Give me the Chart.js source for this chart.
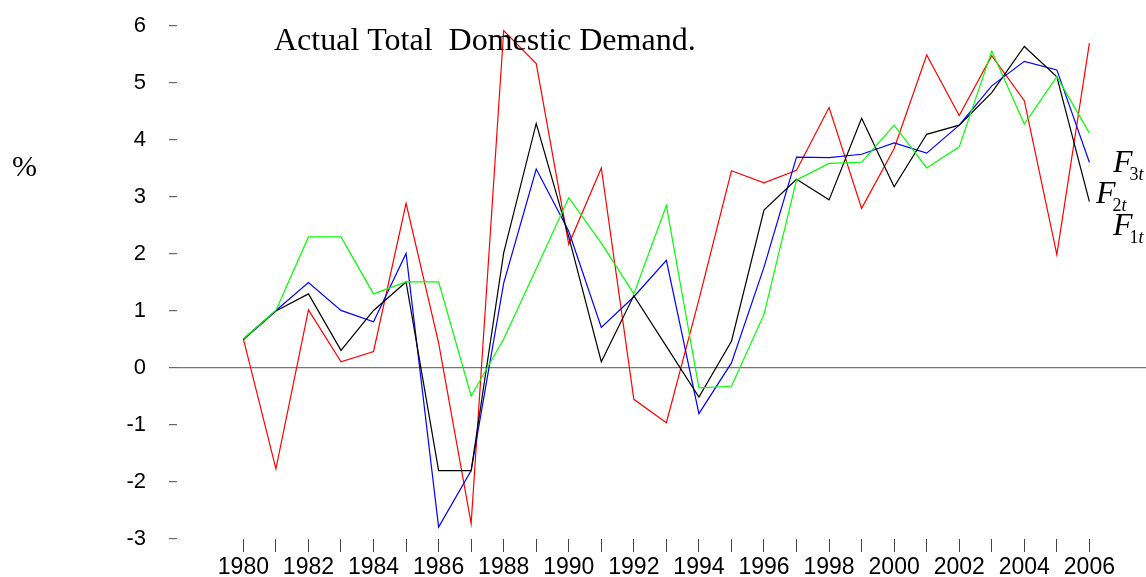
<!DOCTYPE html>
<html lang="en">
<head>
  <meta charset="UTF-8">
  <title>Actual Total Domestic Demand</title>
  <script src="https://cdn.jsdelivr.net/npm/chart.js"></script>
  <style>
    body {
      margin: 0;
      padding: 0;
      background: #fff;
    }

    #wrap {
      width: 1146px;
      height: 577px;
    }
  </style>
</head>
<body>
  <div id="wrap">
    <canvas id="demandChart" width="1146" height="577"></canvas>
  </div>

  <script>
    // years on the x axis
    const years = [1980, 1981, 1982, 1983, 1984, 1985, 1986, 1987, 1988, 1989,
      1990, 1991, 1992, 1993, 1994, 1995, 1996, 1997, 1998, 1999,
      2000, 2001, 2002, 2003, 2004, 2005, 2006];

    // actual total domestic demand (%)
    const actual = [0.51, -1.77, 1.02, 0.11, 0.29, 2.89, 0.44, -2.73, 5.92, 5.34,
      2.17, 3.51, -0.55, -0.96, 1.2, 3.46, 3.25, 3.47, 4.57, 2.80,
      3.85, 5.49, 4.43, 5.48, 4.69, 1.99, 5.70];

    // forecasts
    const f1 = [0.51, 1.01, 2.30, 2.30, 1.30, 1.51, 1.51, -0.49, 0.51, 1.74,
      2.99, 2.19, 1.30, 2.85, -0.35, -0.32, 0.94, 3.30, 3.59, 3.61,
      4.26, 3.51, 3.88, 5.56, 4.28, 5.11, 4.12];

    const f2 = [0.5, 1.0, 1.30, 0.31, 1.01, 1.51, -1.80, -1.80, 2.02, 4.29,
      2.3, 0.11, 1.27, 0.38, -0.51, 0.47, 2.77, 3.31, 2.95, 4.38,
      3.18, 4.10, 4.26, 4.83, 5.64, 5.11, 2.92];

    const f3 = [0.51, 1.01, 1.50, 1.01, 0.81, 2.01, -2.79, -1.80, 1.49, 3.49,
      2.4, 0.71, 1.25, 1.89, -0.80, 0.09, 1.77, 3.70, 3.69, 3.75,
      3.95, 3.77, 4.26, 4.95, 5.38, 5.23, 3.61];

    const yTicks = [-3, -2, -1, 0, 1, 2, 3, 4, 5, 6];

    function points(vals) {
      return years.map((yr, i) => ({ x: yr, y: vals[i] }));
    }

    function series(label, vals, color) {
      return {
        label: label,
        data: points(vals),
        borderColor: color,
        borderWidth: 1.2,
        pointRadius: 0,
        tension: 0,
        fill: false
      };
    }

    // free text: title, % label, F labels
    const textPlugin = {
      id: 'texts',
      afterDraw(chart) {
        const c = chart.ctx;
        c.save();
        c.fillStyle = '#000';
        c.textBaseline = 'alphabetic';
        c.textAlign = 'left';

        c.font = '32px "Liberation Serif"';
        c.fillText('Actual Total  Domestic Demand.', 274, 50);

        c.font = '30px "Liberation Serif"';
        c.fillText('%', 12, 176);

        const fLabel = (x, y, n) => {
          c.font = 'italic 32px "Liberation Serif"';
          c.fillText('F', x, y);
          const w = c.measureText('F').width;
          c.font = '18px "Liberation Serif"';
          c.fillText(n, x + w - 3, y + 8);
          const w2 = c.measureText(n).width;
          c.font = 'italic 18px "Liberation Serif"';
          c.fillText('t', x + w - 3 + w2, y + 8);
        };
        fLabel(1113, 172, '3');
        fLabel(1096, 203, '2');
        fLabel(1113, 235, '1');
        c.restore();
      }
    };

    new Chart(document.getElementById('demandChart'), {
      type: 'line',
      data: {
        datasets: [
          series('F1t', f1, '#00ff00'),
          series('F2t', f2, '#000000'),
          series('F3t', f3, '#0000ff'),
          series('Actual', actual, '#ff0000')
        ]
      },
      options: {
        responsive: false,
        animation: false,
        layout: { padding: { top: 26, right: 0, left: 0, bottom: 0 } },
        plugins: {
          legend: { display: false },
          title: { display: false },
          tooltip: { enabled: false }
        },
        scales: {
          x: {
            type: 'linear',
            min: 1977.96,
            max: 2007.74,
            afterBuildTicks: s => { s.ticks = years.map(v => ({ value: v })); },
            afterFit: s => { s.height = 38; },
            border: { display: false },
            grid: {
              drawOnChartArea: false,
              drawTicks: true,
              tickLength: 13,
              color: '#444',
              lineWidth: 1
            },
            ticks: {
              autoSkip: false,
              maxRotation: 0,
              padding: 2,
              color: '#000',
              font: { family: 'Liberation Sans', size: 23 },
              callback: v => (v % 2 === 0 ? String(v) : '')
            }
          },
          y: {
            min: -3,
            max: 6,
            afterBuildTicks: s => { s.ticks = yTicks.map(v => ({ value: v })); },
            afterFit: s => {
              s.width = 177;
              s.paddingTop = 0;
              s.paddingBottom = 0;
            },
            border: { display: false },
            grid: {
              drawTicks: true,
              tickLength: 8,
              lineWidth: 1.2,
              color: ctx => (ctx.tick && ctx.tick.value === 0 ? '#777' : 'rgba(0,0,0,0)'),
              tickColor: '#666'
            },
            ticks: {
              padding: 23,
              color: '#000',
              font: { family: 'Liberation Sans', size: 22 },
              callback: v => String(v)
            }
          }
        }
      },
      plugins: [textPlugin]
    });
  </script>
</body>
</html>
